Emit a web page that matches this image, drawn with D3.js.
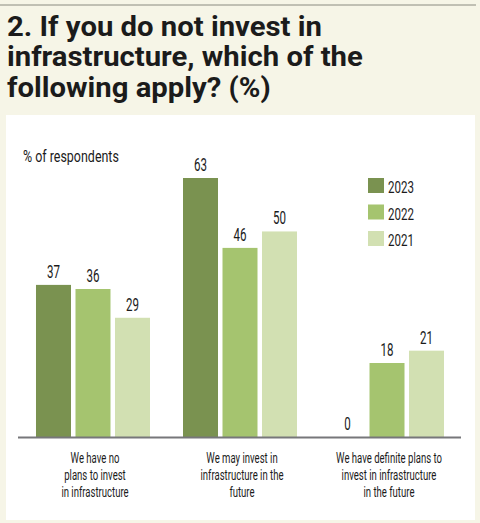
<!DOCTYPE html>
<html>
<head>
<meta charset="utf-8">
<script src="https://cdn.jsdelivr.net/npm/d3@7"></script>
<style>
  html, body { margin: 0; padding: 0; background: #f6f5e7; }
  svg { display: block; }
  text { font-family: Roboto, "DejaVu Sans", sans-serif; }
</style>
</head>
<body>
<div id="chart"></div>
<script>
const categories = [
    ["We have no", "plans to invest", "in infrastructure"],
    ["We may invest in", "infrastructure in the", "future"],
    ["We have definite plans to", "invest in infrastructure", "in the future"]
];
const years = ["2023", "2022", "2021"];
const values2023 = [37, 63, 0];
const values2022 = [36, 46, 18];
const values2021 = [29, 50, 21];
const colors = ["#7a9250", "#a5c46f", "#d2e0b2"];
const titleLines = ["2. If you do not invest in", "infrastructure, which of the", "following apply? (%)"];

const series = [values2023, values2022, values2021];

const width = 480, height = 523;

// squeeze a text horizontally around its anchor x, to mimic a condensed face
function squeeze(sel, x, s) {
    sel.attr("transform", `translate(${x},0) scale(${s},1) translate(${-x},0)`);
}

const svg = d3.select("#chart")
    .append("svg")
    .attr("width", width)
    .attr("height", height);

// background + top rule
svg.append("rect").attr("width", width).attr("height", height).attr("fill", "#f6f5e7");
svg.append("line")
    .attr("x1", 0).attr("x2", 476).attr("y1", 5).attr("y2", 5)
    .attr("stroke", "#8a8a80").attr("stroke-width", 1);

// title
const title = svg.append("g")
    .selectAll("text")
    .data(titleLines)
    .enter()
    .append("text")
        .attr("x", 7)
        .attr("y", (d, i) => 36 + i * 30.5)
        .attr("font-size", 27.5)
        .attr("font-weight", "bold")
        .attr("fill", "#1b1b1b")
        .text(d => d);
const titleW = title.nodes()[1].getComputedTextLength();
title.each(function() { squeeze(d3.select(this), 7, 356 / titleW); });

// white panel
svg.append("rect")
    .attr("x", 6).attr("y", 115)
    .attr("width", 469).attr("height", 405)
    .attr("fill", "#ffffff");

const sub = svg.append("text")
    .attr("x", 23).attr("y", 162)
    .attr("font-size", 16.5)
    .attr("fill", "#1b1b1b")
    .text("% of respondents");
squeeze(sub, 23, 96 / sub.node().getComputedTextLength());

// scales
const x0 = d3.scaleBand()
    .domain(d3.range(categories.length))
    .range([18, 462])
    .paddingInner(0.2245)
    .paddingOuter(0.1224);

const x1 = d3.scaleBand()
    .domain(years)
    .range([0, x0.bandwidth()])
    .paddingInner(0.114);

const y = d3.scaleLinear()
    .domain([0, 63])
    .range([437, 178]);

const groups = svg.append("g")
    .selectAll("g")
    .data(categories)
    .enter()
    .append("g")
        .attr("transform", (d, i) => `translate(${x0(i)},0)`);

groups.selectAll("rect")
    .data((d, i) => years.map((yr, j) => ({year: yr, value: series[j][i], color: colors[j]})))
    .enter()
    .append("rect")
        .attr("x", d => x1(d.year))
        .attr("y", d => y(d.value))
        .attr("width", x1.bandwidth())
        .attr("height", d => y(0) - y(d.value))
        .attr("fill", d => d.color);

groups.selectAll("text.val")
    .data((d, i) => years.map((yr, j) => ({year: yr, value: series[j][i]})))
    .enter()
    .append("text")
        .attr("class", "val")
        .attr("x", d => x1(d.year) + x1.bandwidth() / 2)
        .attr("y", d => y(d.value) - 7)
        .attr("text-anchor", "middle")
        .attr("font-size", 17.5)
        .attr("fill", "#1b1b1b")
        .text(d => d.value)
        .each(function(d) { squeeze(d3.select(this), x1(d.year) + x1.bandwidth() / 2, 0.66); });

// baseline
svg.append("line")
    .attr("x1", 18).attr("x2", 461)
    .attr("y1", y(0) + 0.5).attr("y2", y(0) + 0.5)
    .attr("stroke", "#77777a").attr("stroke-width", 2);

// category labels
const labels = groups.append("text")
    .attr("text-anchor", "middle")
    .attr("font-size", 15.5)
    .attr("fill", "#1b1b1b");
labels.selectAll("tspan")
    .data(d => d)
    .enter()
    .append("tspan")
        .attr("x", x0.bandwidth() / 2 + 2)
        .attr("y", (d, i) => 463 + i * 17)
        .text(d => d);
// width of the widest label line in the reference is about 106px
const probe = labels.nodes()[2].querySelector("tspan").getComputedTextLength();
labels.each(function() { squeeze(d3.select(this), x0.bandwidth() / 2 + 2, 106 / probe); });

// legend
const legend = svg.append("g")
    .selectAll("g")
    .data(years)
    .enter()
    .append("g")
        .attr("transform", (d, i) => `translate(368,${178 + i * 26.5})`);

legend.append("rect")
    .attr("width", 16).attr("height", 15)
    .attr("fill", (d, i) => colors[i]);

legend.append("text")
    .attr("x", 20).attr("y", 15)
    .attr("font-size", 17)
    .attr("fill", "#1b1b1b")
    .text(d => d)
    .each(function() { squeeze(d3.select(this), 20, 0.68); });
</script>
</body>
</html>
